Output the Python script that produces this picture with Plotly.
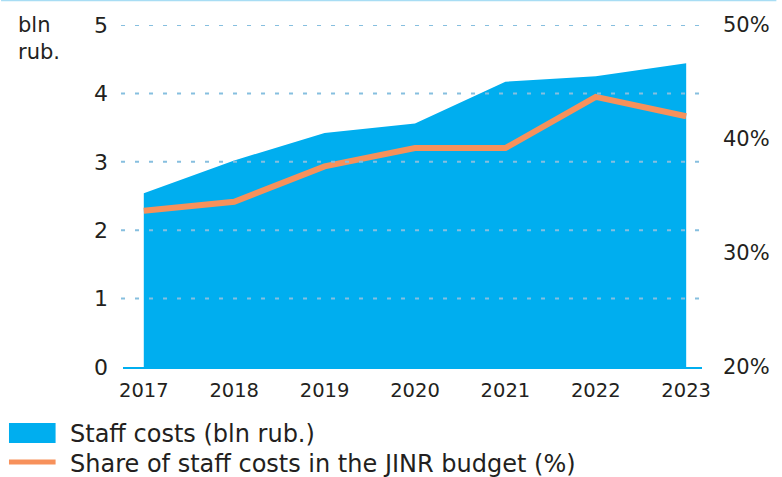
import plotly.graph_objects as go

# Data
years = [2017, 2018, 2019, 2020, 2021, 2022, 2023]
staff_costs_bln = [2.54, 3.02, 3.42, 3.56, 4.17, 4.25, 4.44]
share_pct = [33.7, 34.5, 37.6, 39.2, 39.2, 43.7, 42.0]
left_ticks = [0, 1, 2, 3, 4, 5]
right_ticks = [20, 30, 40, 50]

AREA_BLUE = "#00AEEF"
ORANGE = "#F7915B"
TEXT = "#231F20"
GRID = "#86BFDF"
FONT = "DejaVu Sans"

W, H = 782, 477
ML, MR, MT, MB = 123, 75, 25, 110
PW, PH = W - ML - MR, H - MT - MB


def px_x(p):
    return (p - ML) / PW


def px_y(p):
    return (H - MB - p) / PH


fig = go.Figure()

fig.add_trace(go.Scatter(
    x=years, y=staff_costs_bln, mode="lines", fill="tozeroy",
    fillcolor=AREA_BLUE, line=dict(width=0, color=AREA_BLUE),
    name="Staff costs (bln rub.)", showlegend=False, hoverinfo="skip",
))
fig.add_trace(go.Scatter(
    x=years, y=share_pct, mode="lines", yaxis="y2",
    line=dict(width=6, color=ORANGE),
    name="Share of staff costs in the JINR budget (%)", showlegend=False,
))

shapes = []
# dotted grid drawn over the area
for v in left_ticks[1:]:
    shapes.append(dict(type="line", xref="paper", yref="y",
                       x0=px_x(121), x1=px_x(714), y0=v, y1=v,
                       line=dict(color=GRID, width=2, dash="4px,10px"),
                       layer="above"))
# thin rule along the top edge
shapes.append(dict(type="line", xref="paper", yref="paper",
                   x0=px_x(0), x1=px_x(W), y0=px_y(0.5), y1=px_y(0.5),
                   line=dict(color="#A8DDF4", width=1.5), layer="above"))
# legend swatches
shapes.append(dict(type="rect", xref="paper", yref="paper",
                   x0=px_x(8), x1=px_x(55), y0=px_y(443), y1=px_y(423),
                   fillcolor=AREA_BLUE, line=dict(width=0)))
shapes.append(dict(type="line", xref="paper", yref="paper",
                   x0=px_x(8), x1=px_x(55), y0=px_y(462), y1=px_y(462),
                   line=dict(color=ORANGE, width=5)))

annotations = [
    dict(text="bln<br>rub.", xref="paper", yref="paper",
         x=px_x(15), y=px_y(11), xanchor="left", yanchor="top",
         align="left", showarrow=False,
         font=dict(family=FONT, size=21, color=TEXT)),
    dict(text="Staff costs (bln rub.)", xref="paper", yref="paper",
         x=px_x(68), y=px_y(434), xanchor="left", yanchor="middle",
         showarrow=False, font=dict(family=FONT, size=24, color=TEXT)),
    dict(text="Share of staff costs in the JINR budget (%)",
         xref="paper", yref="paper",
         x=px_x(68), y=px_y(464), xanchor="left", yanchor="middle",
         showarrow=False, font=dict(family=FONT, size=24, color=TEXT)),
]

fig.update_layout(
    width=W, height=H,
    margin=dict(l=ML, r=MR, t=MT, b=MB),
    paper_bgcolor="white", plot_bgcolor="white",
    font=dict(family=FONT, size=21, color=TEXT),
    showlegend=False,
    shapes=shapes, annotations=annotations,
    xaxis=dict(
        range=[2016.77, 2023.175], tickvals=years,
        ticktext=[str(y) for y in years],
        showgrid=False, zeroline=False,
        showline=True, linecolor=AREA_BLUE, linewidth=2,
        ticks="", ticklabelstandoff=5,
        tickfont=dict(family=FONT, size=19.5, color=TEXT),
    ),
    yaxis=dict(
        range=[0, 5], tickvals=left_ticks, showgrid=False, zeroline=False,
        showline=False, ticks="", ticklabelstandoff=14,
        tickfont=dict(family=FONT, size=22, color=TEXT),
    ),
    yaxis2=dict(
        range=[20, 50], tickvals=right_ticks,
        ticktext=[f"{v}%" for v in right_ticks],
        overlaying="y", side="right", showgrid=False, zeroline=False,
        showline=False, ticks="", ticklabelstandoff=20,
        tickfont=dict(family=FONT, size=21, color=TEXT),
    ),
)

fig.write_html("out.html")
